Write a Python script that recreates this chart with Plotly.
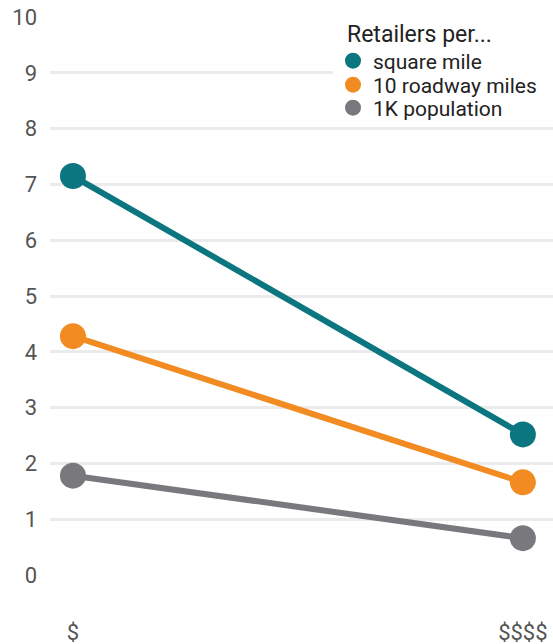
import plotly.graph_objects as go

categories = ["$", "$$$$"]
square_mile = [7.15, 2.52]
roadway_miles = [4.28, 1.66]
population = [1.78, 0.66]
series_names = ["square mile", "10 roadway miles", "1K population"]
legend_title = "Retailers per..."
colors = ["#0b7580", "#f28b22", "#79787d"]
y_ticks = list(range(0, 11))

W, H = 553, 644
L, R, T, B = 50, 0, 17, 69
ph = H - T - B
pw = W - L - R

def py(p):  # pixel row -> paper y
    return (H - B - p) / ph

def px(p):  # pixel col -> paper x
    return (p - L) / pw

fig = go.Figure()
for vals, name, col in zip([square_mile, roadway_miles, population], series_names, colors):
    fig.add_trace(go.Scatter(
        x=categories, y=vals, mode="lines+markers", name=name,
        line=dict(color=col, width=6), marker=dict(color=col, size=26),
        showlegend=False, cliponaxis=False))

legend_ids = ["legend", "legend2", "legend3"]
legend_rows = [61, 85, 108]
for name, col, lid in zip(series_names, colors, legend_ids):
    fig.add_trace(go.Scatter(
        x=[None], y=[None], mode="markers", name=name, legend=lid,
        marker=dict(color=col, size=16), showlegend=True))

leg_common = dict(xanchor="left", yanchor="middle", bgcolor="rgba(0,0,0,0)",
                  font=dict(family="Roboto", size=21, color="#222222"),
                  itemsizing="trace", borderwidth=0)
layout_legends = {}
for lid, row in zip(legend_ids, legend_rows):
    layout_legends[lid] = dict(x=px(333), y=py(row), **leg_common)

fig.update_layout(
    width=W, height=H,
    margin=dict(l=L, r=R, t=T, b=B),
    paper_bgcolor="white", plot_bgcolor="white",
    font=dict(family="Roboto", color="#555555"),
    xaxis=dict(type="category", range=[-0.051, 1.067], showgrid=False,
               zeroline=False, showline=False, automargin=False,
               tickfont=dict(size=22, color="#555555"), ticklabelstandoff=42),
    yaxis=dict(range=[0, 10], tickvals=y_ticks, showgrid=True, gridcolor="#ebebeb",
               gridwidth=3, zeroline=False, showline=False, automargin=False,
               tickfont=dict(size=22, color="#555555"), ticklabelstandoff=12),
    shapes=[dict(type="rect", xref="paper", yref="paper",
                 x0=px(333), x1=1.02, y0=py(124), y1=py(-5),
                 fillcolor="white", line=dict(width=0), layer="above")],
    annotations=[dict(text=legend_title, xref="paper", yref="paper",
                      x=px(345), y=py(34), xanchor="left", yanchor="middle",
                      showarrow=False, font=dict(family="Roboto", size=23, color="#222222"))],
    **layout_legends,
)
fig.write_html("out.html", config={"displayModeBar": False},
               post_script="document.body.style.margin='0px';document.body.style.overflow='hidden';")
